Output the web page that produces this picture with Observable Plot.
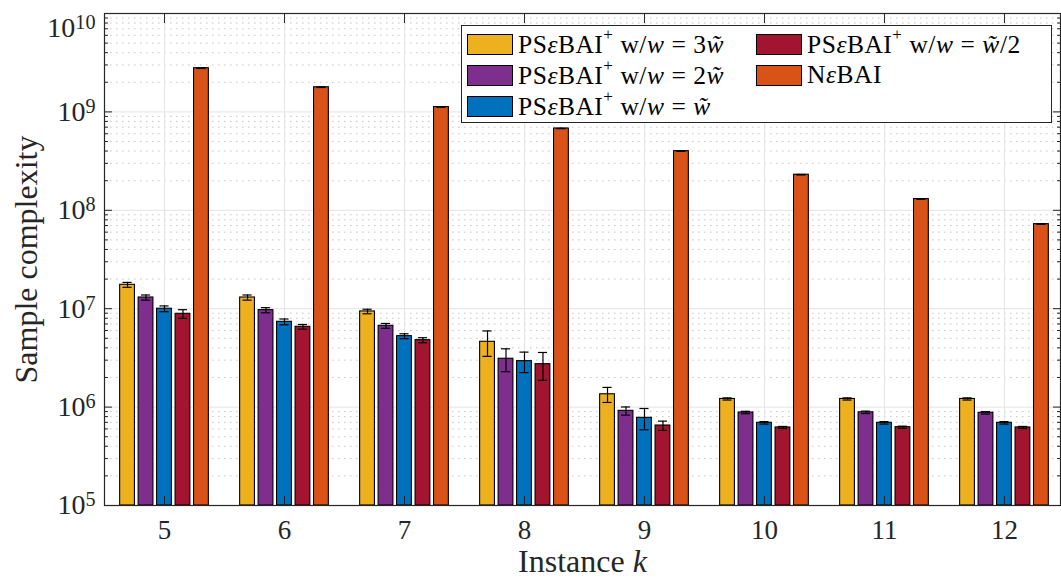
<!DOCTYPE html>
<html><head><meta charset="utf-8">
<script src="https://cdn.jsdelivr.net/npm/d3@7"></script>
<script src="https://cdn.jsdelivr.net/npm/@observablehq/plot@0.6"></script>
<style>
body{margin:0;background:#fff;}
#wrap{position:relative;width:1061px;height:586px;font-family:"Liberation Serif",serif;overflow:hidden;}
#legend{position:absolute;left:461px;top:25px;width:591px;height:98px;border:1px solid #262626;background:#fff;box-sizing:border-box;}
.item{position:absolute;display:flex;align-items:center;font-size:25.5px;letter-spacing:0.5px;color:#000;white-space:nowrap;height:22px;}
.sw{width:46px;height:21px;border:1px solid #000;box-sizing:border-box;margin-right:5px;}
.item sup{font-size:17px;position:relative;top:-3px;}
.sp{display:inline-block;width:7px;}
</style></head><body><div id="wrap"><div id="chart"></div><div id="legend"></div></div>
<script>
// ---- data ----
const instances = [5, 6, 7, 8, 9, 10, 11, 12];
const seriesKeys = ["w3", "w2", "w1", "wHalf", "N"];
const seriesColors = ["#EDB120", "#7E2F8E", "#0072BD", "#A2142F", "#D95319"];
const seriesLabels = [
  "PS<i>ε</i>BAI<sup>+</sup><span class='sp'></span>w/<i>w</i><span class='sp'></span>=<span class='sp'></span>3<i>w̃</i>",
  "PS<i>ε</i>BAI<sup>+</sup><span class='sp'></span>w/<i>w</i><span class='sp'></span>=<span class='sp'></span>2<i>w̃</i>",
  "PS<i>ε</i>BAI<sup>+</sup><span class='sp'></span>w/<i>w</i><span class='sp'></span>=<span class='sp'></span><i>w̃</i>",
  "PS<i>ε</i>BAI<sup>+</sup><span class='sp'></span>w/<i>w</i><span class='sp'></span>=<span class='sp'></span><i>w̃</i>/2",
  "N<i>ε</i>BAI"
];
const w3Values    = [1.75e7, 1.30e7, 9.38e6, 4.61e6, 1.35e6, 1.21e6, 1.21e6, 1.21e6];
const w2Values    = [1.30e7, 9.67e6, 6.70e6, 3.10e6, 9.16e5, 8.81e5, 8.85e5, 8.75e5];
const w1Values    = [1.00e7, 7.36e6, 5.26e6, 2.93e6, 7.78e5, 6.92e5, 6.92e5, 6.92e5];
const wHalfValues = [8.87e6, 6.55e6, 4.79e6, 2.73e6, 6.50e5, 6.21e5, 6.25e5, 6.21e5];
const nValues     = [2.78e9, 1.78e9, 1.12e9, 6.78e8, 3.99e8, 2.30e8, 1.30e8, 7.23e7];
const w3Err    = [1.0e6, 7.8e5, 5.0e5, 1.33e6, 2.35e5, 3.0e4, 3.0e4, 3.0e4];
const w2Err    = [7.8e5, 5.8e5, 3.8e5, 8.1e5, 8.7e4, 2.5e4, 2.5e4, 2.5e4];
const w1Err    = [6.7e5, 5.0e5, 3.0e5, 6.9e5, 1.9e5, 2.0e4, 2.0e4, 2.0e4];
const wHalfErr = [9.0e5, 3.6e5, 2.8e5, 8.6e5, 7.0e4, 1.5e4, 1.5e4, 1.5e4];
const nErr     = [2.0e7, 1.0e7, 6.0e6, 3.0e6, 2.0e6, 1.2e6, 7.0e5, 4.0e5];
const yTicks = [1e5, 1e6, 1e7, 1e8, 1e9, 1e10];
const yTickExponents = ["5", "6", "7", "8", "9", "10"];
const minorMultipliers = [2, 3, 4, 5, 6, 7, 8, 9];

// ---- build table ----
const allValues = [w3Values, w2Values, w1Values, wHalfValues, nValues];
const allErr = [w3Err, w2Err, w1Err, wHalfErr, nErr];
const rows = [];
instances.forEach((k, i) => seriesKeys.forEach((s, j) => rows.push({instance: k, s: j, value: allValues[j][i], err: allErr[j][i]})));
const minorTicks = yTicks.slice(0, -1).flatMap(t => minorMultipliers.map(m => m * t));

// grouped bar layout (MATLAB style)
const groupWidth = 0.77, step = groupWidth / 5, barW = step * 0.8, capHalf = 0.038;
const xc = d => d.instance + (d.s - 2) * step;
const blank = () => "";
const expOf = d => yTickExponents[yTicks.findIndex(t => Math.abs(Math.log10(t) - Math.log10(d)) < 1e-6)];

const axisColor = "#262626";
const chart = Plot.plot({
  width: 1061, height: 586,
  marginLeft: 104, marginRight: 1, marginTop: 13, marginBottom: 81,
  style: {fontFamily: "Liberation Serif, serif", background: "#fff", color: "#262626", overflow: "visible"},
  x: {type: "linear", domain: [4.5, 12.467]},
  y: {type: "log", domain: [1e5, 1e10]},
  marks: [
    Plot.ruleY(minorTicks, {stroke: "#c4c4c4", strokeDasharray: "1.5,4.5", strokeWidth: 1}),
    Plot.ruleY(yTicks, {stroke: "#e3e3e3", strokeWidth: 1}),
    Plot.ruleX(instances, {stroke: "#e3e3e3", strokeWidth: 1}),
    Plot.rectY(rows, {x1: d => xc(d) - barW / 2, x2: d => xc(d) + barW / 2, y1: 1e5, y2: "value",
      fill: d => seriesColors[d.s], stroke: "#000", strokeWidth: 1.1}),
    Plot.ruleX(rows, {x: xc, y1: d => d.value - d.err, y2: d => d.value + d.err, stroke: "#000", strokeWidth: 1.2}),
    Plot.ruleY(rows, {y: d => d.value + d.err, x1: d => xc(d) - capHalf, x2: d => xc(d) + capHalf, stroke: "#000", strokeWidth: 1.2}),
    Plot.ruleY(rows, {y: d => d.value - d.err, x1: d => xc(d) - capHalf, x2: d => xc(d) + capHalf, stroke: "#000", strokeWidth: 1.2}),
    // ticks (inward)
    Plot.axisY({anchor: "left", ticks: yTicks, tickSize: -8, tickFormat: blank, label: null, stroke: axisColor}),
    Plot.axisY({anchor: "left", ticks: minorTicks, tickSize: -4, tickFormat: blank, label: null, stroke: axisColor}),
    Plot.axisY({anchor: "right", ticks: yTicks, tickSize: -8, tickFormat: blank, label: null, stroke: axisColor}),
    Plot.axisY({anchor: "right", ticks: minorTicks, tickSize: -4, tickFormat: blank, label: null, stroke: axisColor}),
    Plot.axisX({anchor: "bottom", ticks: instances, tickSize: -9, tickFormat: blank, label: null, stroke: axisColor}),
    Plot.axisX({anchor: "top", ticks: instances, tickSize: -9, tickFormat: blank, label: null, stroke: axisColor}),
    // labels
    Plot.axisY({anchor: "left", ticks: yTicks, tickSize: 0, tickPadding: 9, fontSize: 28,
      tickFormat: d => "10^" + expOf(d), label: "Sample complexity", labelAnchor: "center", labelOffset: 90, labelArrow: "none"}),
    Plot.axisX({anchor: "bottom", ticks: instances, tickSize: 0, tickPadding: 14, fontSize: 27,
      tickFormat: d => String(d), label: "Instance k", labelAnchor: "center", labelOffset: 66, labelArrow: "none"}),
    Plot.frame({stroke: axisColor, strokeWidth: 1.2})
  ]
});
document.getElementById("chart").appendChild(chart);

// superscripts on y tick labels
d3.select(chart).selectAll("text").each(function() {
  const t = this.textContent;
  if (/^10\^\d+$/.test(t)) {
    const e = t.split("^")[1];
    this.textContent = "";
    d3.select(this).append("tspan").text("10");
    d3.select(this).append("tspan").attr("dy", "-0.4em").attr("font-size", "0.72em").text(e);
    if (e === "10") d3.select(this).attr("dy", "0.52em");
  } else if (t.startsWith("Instance k")) {
    this.textContent = "";
    d3.select(this).append("tspan").text("Instance ");
    d3.select(this).append("tspan").attr("font-style", "italic").text("k");
  }
});
d3.select(chart).selectAll('[aria-label="x-axis label"], [aria-label="y-axis label"]').attr("font-size", 32);
d3.select(chart).selectAll('[aria-label="x-axis label"] text, [aria-label="y-axis label"] text').attr("font-size", 32).attr("fill", "#262626");

// legend
const legend = document.getElementById("legend");
const pos = [[5, 7], [5, 38], [5, 69], [294, 7], [294, 38]];
seriesLabels.forEach((lab, j) => {
  const it = document.createElement("div");
  it.className = "item";
  it.style.left = pos[j][0] + "px";
  it.style.top = pos[j][1] + "px";
  it.innerHTML = `<div class="sw" style="background:${seriesColors[j]}"></div><span>${lab}</span>`;
  legend.appendChild(it);
});
</script></body></html>
